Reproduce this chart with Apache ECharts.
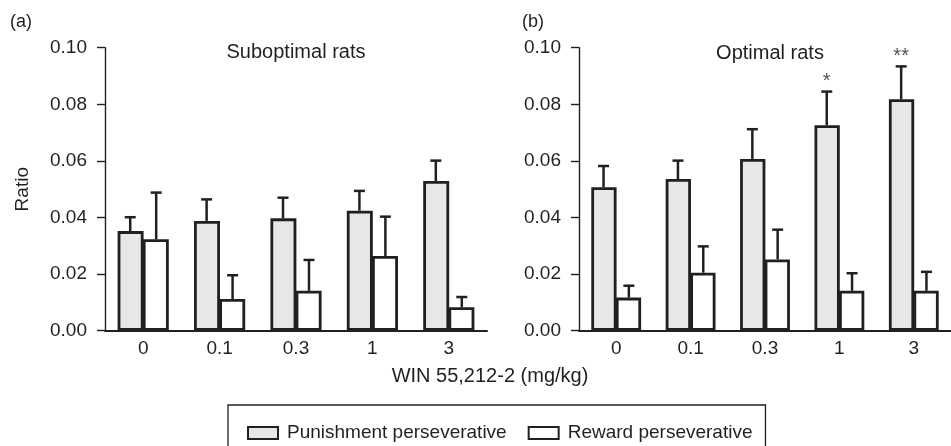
<!DOCTYPE html>
<html>
<head>
<meta charset="utf-8">
<script src="https://cdn.jsdelivr.net/npm/echarts@6/dist/echarts.min.js"></script>
<style>
html,body{margin:0;padding:0;background:#fff;}
#chart{width:951px;height:446px;}
</style>
</head>
<body>
<div id="chart"></div>
<script>
// ---- data ----
var categories = ['0', '0.1', '0.3', '1', '3'];
var yTicks = [0, 0.02, 0.04, 0.06, 0.08, 0.10];
// Suboptimal rats (panel a)
var subPunish    = [0.0352, 0.0388, 0.0397, 0.0424, 0.0529];
var subPunishTop = [0.0401, 0.0464, 0.0470, 0.0494, 0.0601];
var subReward    = [0.0323, 0.0112, 0.0141, 0.0264, 0.0083];
var subRewardTop = [0.0488, 0.0196, 0.0250, 0.0403, 0.0119];
// Optimal rats (panel b)
var optPunish    = [0.0507, 0.0536, 0.0607, 0.0726, 0.0818];
var optPunishTop = [0.0582, 0.0601, 0.0712, 0.0845, 0.0934];
var optReward    = [0.0117, 0.0205, 0.0252, 0.0141, 0.0141];
var optRewardTop = [0.0159, 0.0298, 0.0357, 0.0203, 0.0208];
var optSig       = ['', '', '', '*', '**'];
var noSig        = ['', '', '', '', ''];

// ---- styles ----
var FONT = "'Liberation Sans', Arial, Helvetica, sans-serif";
var INK = '#231f20';
var GRAY = '#e6e7e8';
var BAR_FRAC = 0.34;

var chart = echarts.init(document.getElementById('chart'), null, {renderer: 'canvas'});

function pairs(means, tops) {
  return means.map(function (m, i) { return [i, m, tops[i]]; });
}

function errSeries(xi, means, tops, side, sig) {
  return {
    type: 'custom',
    xAxisIndex: xi, yAxisIndex: xi,
    silent: true,
    z: 5,
    data: pairs(means, tops),
    renderItem: function (params, api) {
      var ci = api.value(0), mean = api.value(1), top = api.value(2);
      var band = api.size([1, 0])[0];
      var bw = band * BAR_FRAC;
      var c = api.coord([ci, mean]);
      var x = c[0] + side * bw / 2;
      var yT = api.coord([ci, top])[1];
      var st = {stroke: INK, lineWidth: 2.5};
      var kids = [
        {type: 'line', shape: {x1: x, y1: c[1], x2: x, y2: yT}, style: st},
        {type: 'line', shape: {x1: x - 5.5, y1: yT, x2: x + 5.5, y2: yT}, style: st}
      ];
      var s = sig[params.dataIndex];
      if (s) {
        kids.push({type: 'text', x: x, y: yT - 10,
          style: {text: s, fill: '#555', font: '20px ' + FONT, align: 'center', verticalAlign: 'middle'}});
      }
      return {type: 'group', children: kids};
    }
  };
}

function barSeries(name, xi, data, fill) {
  return {
    name: name, type: 'bar', xAxisIndex: xi, yAxisIndex: xi,
    data: data, barWidth: (BAR_FRAC * 100) + '%', barGap: '-3%',
    itemStyle: {color: fill, borderColor: INK, borderWidth: 2.8},
    emphasis: {disabled: true}
  };
}

function yAxis(gi, withName) {
  var ax = {
    type: 'value', gridIndex: gi, min: yTicks[0], max: yTicks[yTicks.length - 1], interval: 0.02,
    axisLine: {show: true, lineStyle: {color: INK, width: 1.4}},
    axisTick: {show: true, length: 8, lineStyle: {color: INK, width: 1.4}},
    splitLine: {show: false},
    axisLabel: {color: INK, fontFamily: FONT, fontSize: 19, margin: 18,
      formatter: function (v) { return v.toFixed(2); }}
  };
  if (withName) {
    ax.name = 'Ratio';
    ax.nameLocation = 'middle';
    ax.nameGap = 73;
    ax.nameTextStyle = {color: INK, fontFamily: FONT, fontSize: 19};
  }
  return ax;
}

function xAxis(gi) {
  return {
    type: 'category', gridIndex: gi, data: categories,
    axisLine: {show: true, lineStyle: {color: INK, width: 2}},
    axisTick: {show: false},
    axisLabel: {color: INK, fontFamily: FONT, fontSize: 19, margin: 9}
  };
}

var titleStyle = {color: INK, fontFamily: FONT, fontWeight: 'normal'};

var option = {
  backgroundColor: '#fff',
  animation: false,
  title: [
    {text: '(a)', left: 10, top: 13, padding: 0, textStyle: Object.assign({fontSize: 18}, titleStyle)},
    {text: '(b)', left: 522, top: 13, padding: 0, textStyle: Object.assign({fontSize: 18}, titleStyle)},
    {text: 'Suboptimal rats', left: 296, textAlign: 'center', top: 42, padding: 0,
      textStyle: Object.assign({fontSize: 20}, titleStyle)},
    {text: 'Optimal rats', left: 770, textAlign: 'center', top: 43, padding: 0,
      textStyle: Object.assign({fontSize: 20}, titleStyle)},
    {text: 'WIN 55,212-2 (mg/kg)', left: 490, textAlign: 'center', top: 366, padding: 0,
      textStyle: Object.assign({fontSize: 20}, titleStyle)}
  ],
  legend: {
    left: 228, top: 405,
    data: ['Punishment perseverative', 'Reward perseverative'],
    icon: 'rect',
    itemWidth: 30, itemHeight: 12, itemGap: 21,
    padding: [18, 13, 40, 19],
    borderColor: INK, borderWidth: 1.3,
    selectedMode: false,
    textStyle: {color: INK, fontFamily: FONT, fontSize: 19, lineHeight: 20, padding: [0, 0, 0, 4]}
  },
  grid: [
    {left: 105, top: 47.7, width: 382, height: 283},
    {left: 579, top: 47.7, width: 382.5, height: 283}
  ],
  xAxis: [xAxis(0), xAxis(1)],
  yAxis: [yAxis(0, true), yAxis(1, false)],
  series: [
    barSeries('Punishment perseverative', 0, subPunish, GRAY),
    barSeries('Reward perseverative', 0, subReward, '#ffffff'),
    barSeries('Punishment perseverative', 1, optPunish, GRAY),
    barSeries('Reward perseverative', 1, optReward, '#ffffff'),
    errSeries(0, subPunish, subPunishTop, -1, noSig),
    errSeries(0, subReward, subRewardTop, 1, noSig),
    errSeries(1, optPunish, optPunishTop, -1, optSig),
    errSeries(1, optReward, optRewardTop, 1, noSig)
  ]
};
chart.setOption(option);
</script>
</body>
</html>
